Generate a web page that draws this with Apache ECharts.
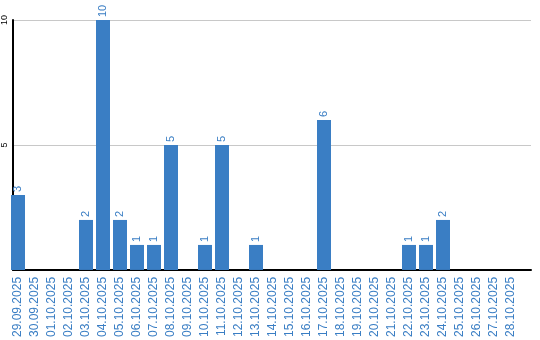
<!DOCTYPE html>
<html><head><meta charset="utf-8">
<script src="https://cdn.jsdelivr.net/npm/echarts@6/dist/echarts.min.js"></script>
<style>html,body{margin:0;padding:0;background:#fff}#c{width:540px;height:340px}</style>
</head><body><div id="c"></div>
<script>
const categories = ["29.09.2025","30.09.2025","01.10.2025","02.10.2025","03.10.2025","04.10.2025","05.10.2025","06.10.2025","07.10.2025","08.10.2025","09.10.2025","10.10.2025","11.10.2025","12.10.2025","13.10.2025","14.10.2025","15.10.2025","16.10.2025","17.10.2025","18.10.2025","19.10.2025","20.10.2025","21.10.2025","22.10.2025","23.10.2025","24.10.2025","25.10.2025","26.10.2025","27.10.2025","28.10.2025"];
const values = [3,0,0,0,2,10,2,1,1,5,0,1,5,0,1,0,0,0,6,0,0,0,0,1,1,2,0,0,0,0];
const yTicks = [0,5,10];

const blue = '#3a7ec4';
const chart = echarts.init(document.getElementById('c'), null, {renderer:'canvas'});
chart.setOption({
  animation:false,
  grid:[
    {left:11, top:20, width:520, height:250},
    {left:9.5, top:20, width:510, height:250}
  ],
  xAxis:[
    {type:'category', gridIndex:0, data:categories, axisLine:{show:true,lineStyle:{color:'#000',width:2}},
     axisTick:{show:false}, axisLabel:{show:false}},
    {type:'category', gridIndex:1, data:categories, axisLine:{show:false}, axisTick:{show:false},
     axisLabel:{rotate:90, interval:0, color:blue, fontFamily:'Liberation Sans', fontSize:12, margin:7}}
  ],
  yAxis:[
    {type:'value', gridIndex:0, min:yTicks[0], max:yTicks[yTicks.length-1], interval:5,
     axisLine:{show:true,lineStyle:{color:'#000',width:2}}, axisTick:{show:false},
     splitLine:{lineStyle:{color:'#c8c8c8',width:1}},
     axisLabel:{rotate:90, color:'#000', fontFamily:'Liberation Sans', fontSize:9, margin:4,
       formatter:v=> v===0?'':String(v)}},
    {type:'value', gridIndex:1, min:yTicks[0], max:yTicks[yTicks.length-1], interval:5, show:false}
  ],
  series:[{
    type:'bar', xAxisIndex:1, yAxisIndex:1, data:values, barWidth:14,
    itemStyle:{color:blue},
    label:{show:true, position:'top', rotate:90, align:'left', verticalAlign:'middle', distance:3,
      color:blue, fontFamily:'Liberation Sans', fontSize:11,
      formatter:p=> p.value===0?'':String(p.value)}
  }]
});
</script></body></html>
